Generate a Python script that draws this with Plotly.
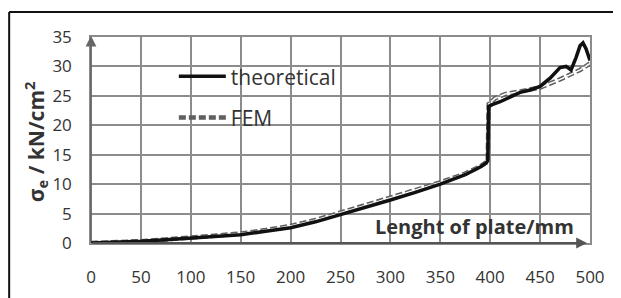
import plotly.graph_objects as go

# Data
x_theo = [0, 25, 50, 75, 100, 125, 150, 175, 200, 225, 250, 275, 300, 325, 350, 375, 390, 396, 397.5, 398.5, 402, 410, 420, 430, 440, 450, 460, 470, 476, 481, 486, 490, 493, 496, 500]
y_theo = [0, 0.1, 0.3, 0.55, 0.8, 1.1, 1.4, 2.0, 2.6, 3.6, 4.8, 6.0, 7.3, 8.6, 10.0, 11.6, 12.9, 13.6, 14.0, 23.2, 23.5, 24.0, 24.8, 25.6, 26.0, 26.6, 28.0, 29.8, 30.0, 29.4, 31.5, 33.5, 34.0, 33.0, 31.0]

x_fem = [0, 25, 50, 75, 100, 125, 150, 175, 200, 225, 250, 275, 300, 325, 350, 375, 390, 396, 397.5, 398.5, 405, 415, 430, 450, 470, 480, 490, 500]
y_fem = [0, 0.1, 0.3, 0.6, 0.9, 1.2, 1.6, 2.2, 2.9, 3.9, 5.1, 6.4, 7.7, 9.0, 10.3, 11.8, 13.0, 13.7, 14.0, 23.6, 24.6, 25.3, 25.8, 26.4, 27.8, 28.6, 29.4, 30.5]

x_ticks = [0, 50, 100, 150, 200, 250, 300, 350, 400, 450, 500]
y_ticks = [0, 5, 10, 15, 20, 25, 30, 35]

FONT = "'Open Sans', sans-serif"
TXT = "#333333"

fig = go.Figure()

fig.add_trace(go.Scatter(
    x=x_fem, y=y_fem, mode="lines", name="FEM",
    line=dict(color="#5f5f5f", width=4.5, dash="7px,3px"),
    legendgroup="b", legendrank=2,
))
fig.add_trace(go.Scatter(
    x=x_fem, y=y_fem, mode="lines", showlegend=False, hoverinfo="skip",
    line=dict(color="#ffffff", width=1.5, dash="7px,3px"),
    legendgroup="b", legendrank=3,
))
fig.add_trace(go.Scatter(
    x=x_theo, y=y_theo, mode="lines", name="theoretical",
    line=dict(color="#111111", width=3.5),
    legendgroup="a", legendrank=1,
))

grid = "#8c8c8c"

fig.update_layout(
    width=621, height=298,
    margin=dict(l=83, r=39, t=29, b=63),
    paper_bgcolor="white", plot_bgcolor="white",
    font=dict(family=FONT, color=TXT, size=13),
    showlegend=True,
    legend=dict(
        x=0.166, y=0.907, xanchor="left", yanchor="top",
        bgcolor="rgba(0,0,0,0)", font=dict(size=21, color=TXT, family=FONT),
        traceorder="grouped", tracegroupgap=11, itemwidth=47,
    ),
    xaxis=dict(
        range=[0, 500], tickvals=x_ticks, showgrid=True, gridcolor=grid, gridwidth=1.5,
        zeroline=False, showline=True, linecolor=grid, linewidth=1.5, mirror=True,
        ticks="", ticklabelstandoff=18, tickfont=dict(size=17, color=TXT, family=FONT),
    ),
    yaxis=dict(
        range=[0, 35], tickvals=y_ticks, showgrid=True, gridcolor=grid, gridwidth=1.5,
        zeroline=False, showline=True, linecolor=grid, linewidth=1.5, mirror=True,
        ticks="", ticklabelstandoff=14, tickfont=dict(size=17, color=TXT, family=FONT),
    ),
)

# axis arrows
fig.add_annotation(x=497, y=0, ax=0, ay=0, xref="x", yref="y", axref="x", ayref="y",
                   showarrow=True, arrowhead=2, arrowsize=1.2, arrowwidth=1.8,
                   arrowcolor="#555555", text="")
fig.add_annotation(x=0, y=35.2, ax=0, ay=0, xref="x", yref="y", axref="x", ayref="y",
                   showarrow=True, arrowhead=2, arrowsize=1.2, arrowwidth=1.8,
                   arrowcolor="#666666", text="")

# Axis titles
fig.add_annotation(x=0.972, y=0.003, xref="paper", yref="paper", xanchor="right", yanchor="bottom",
                   text="<b>Lenght of plate/mm</b>", showarrow=False,
                   font=dict(size=20, color=TXT, family=FONT))
fig.add_annotation(x=-0.112, y=0.49, xref="paper", yref="paper", xanchor="center", yanchor="middle",
                   text="<b>σ<sub>e</sub> / kN/cm<sup>2</sup></b>", textangle=-90, showarrow=False,
                   font=dict(size=21, color=TXT, family=FONT))

# Frame lines (top and left)
fig.add_shape(type="line", xref="paper", yref="paper", x0=-0.164, x1=1.1, y0=1.1216, y1=1.1216,
              line=dict(color="#111111", width=2))
fig.add_shape(type="line", xref="paper", yref="paper", x0=-0.164, x1=-0.164, y0=1.1216, y1=-0.35,
              line=dict(color="#111111", width=2))

fig.write_html("out.html")
